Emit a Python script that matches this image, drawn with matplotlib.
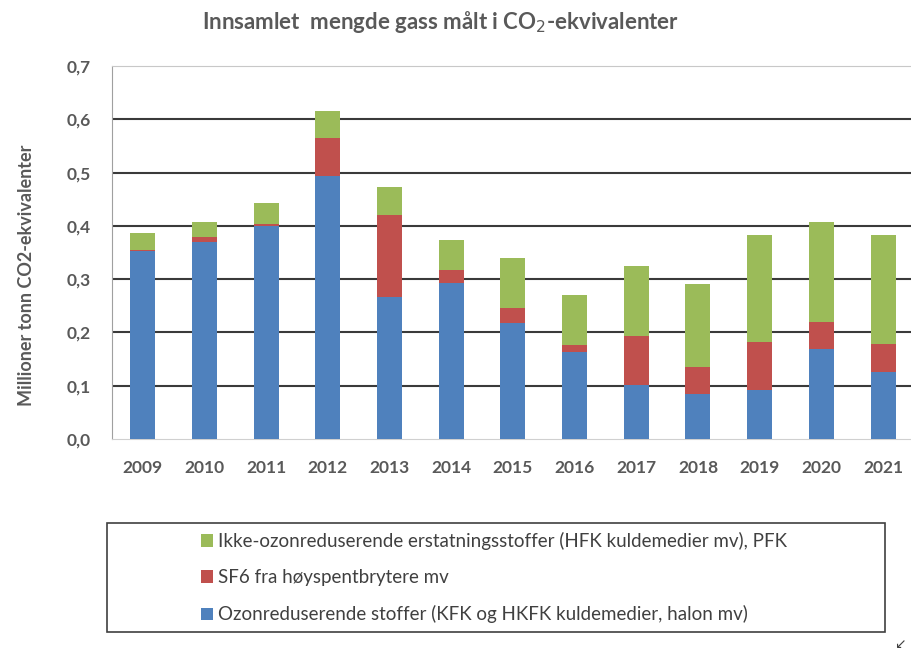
import matplotlib
matplotlib.use("Agg")
import matplotlib.pyplot as plt
from matplotlib.patches import Rectangle
import numpy as np

years = ["2009", "2010", "2011", "2012", "2013", "2014", "2015",
         "2016", "2017", "2018", "2019", "2020", "2021"]
ozon = [0.352, 0.370, 0.400, 0.493, 0.266, 0.292, 0.217,
        0.163, 0.102, 0.085, 0.092, 0.168, 0.126]
sf6 = [0.003, 0.010, 0.003, 0.072, 0.155, 0.025, 0.028,
       0.013, 0.091, 0.051, 0.090, 0.051, 0.053]
ikke_ozon = [0.031, 0.028, 0.039, 0.050, 0.051, 0.056, 0.094,
             0.094, 0.132, 0.154, 0.200, 0.189, 0.203]

labels = ["Ozonreduserende stoffer (KFK og HKFK kuldemedier, halon mv)",
          "SF6 fra høyspentbrytere mv",
          "Ikke-ozonreduserende erstatningsstoffer (HFK kuldemedier mv), PFK"]
colors = ["#4F81BD", "#C0504D", "#9BBB59"]
yticks = [0.0, 0.1, 0.2, 0.3, 0.4, 0.5, 0.6, 0.7]

plt.rcParams['font.family'] = ['Lato', 'DejaVu Sans']
txtc = "#595959"

fig = plt.figure(figsize=(9.12, 6.5), dpi=100)
ax = fig.add_axes([112/912, 1-439/650, 1-112/912, (439-66)/650])

x = np.arange(len(years))
w = 0.405
b1 = ax.bar(x, ozon, w, color=colors[0], label=labels[0], zorder=3)
b2 = ax.bar(x, sf6, w, bottom=ozon, color=colors[1], label=labels[1], zorder=3)
bot2 = np.array(ozon) + np.array(sf6)
b3 = ax.bar(x, ikke_ozon, w, bottom=bot2, color=colors[2], label=labels[2], zorder=3)

ax.set_xlim(-0.5, 12.47)
ax.set_ylim(0, 0.7)
ax.set_yticks(yticks)
ax.set_yticklabels([f"{v:.1f}".replace(".", ",") for v in yticks],
                   fontsize=12.5, fontweight='bold', color=txtc)
ax.set_xticks(x)
ax.set_xticklabels(years, fontsize=12.5, fontweight='bold', color=txtc)
ax.tick_params(axis='both', length=0)
ax.tick_params(axis='y', pad=15)
ax.tick_params(axis='x', pad=15)
for v in yticks[1:-1]:
    ax.axhline(v, color="#3a3a3a", lw=1.5, zorder=1)
for s in ['top', 'right']:
    ax.spines[s].set_color("#c8c8c8")
ax.spines['left'].set_color("#a0a0a0")
ax.spines['bottom'].set_color("#d0d0d0")
ax.spines['right'].set_visible(False)

ax.set_ylabel("Millioner tonn CO2-ekvivalenter", fontsize=13, fontweight='bold',
              color=txtc)
ax.yaxis.set_label_coords(-77/800, 0.44)

fig.text(0.483, 1-22/650, "Innsamlet  mengde gass målt i CO$_2$-ekvivalenter",
         ha='center', va='center', fontsize=16, fontweight='bold', color=txtc)

# legend box
fig.patches.append(Rectangle((107/912, 1-632/650), (885-107)/912, (632-523)/650,
                             transform=fig.transFigure, fill=False,
                             edgecolor="#404040", lw=1.2))
handles = [b3, b2, b1]
fig.legend(handles, [labels[2], labels[1], labels[0]],
           loc='upper left', bbox_to_anchor=(201/912, 1-532/650),
           frameon=False, fontsize=13.5, labelcolor="#404040",
           handlelength=0.64, handleheight=0.64, handletextpad=0.25,
           labelspacing=1.02, borderaxespad=0, borderpad=0)

fig.text(900/912, 1-644/650, "↙", ha='center', va='center', fontsize=10,
         color="#404040", family='DejaVu Sans')

fig.savefig("out.png", dpi=100)
